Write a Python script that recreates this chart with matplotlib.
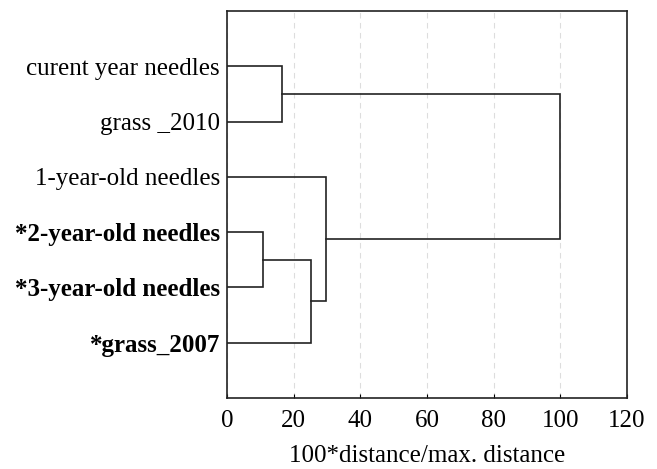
import matplotlib.pyplot as plt

plt.rcParams['font.family'] = ['Liberation Serif', 'DejaVu Serif']

# leaves from top to bottom
labels = ["curent year needles", "grass _2010", "1-year-old needles",
          "*2-year-old needles", "*3-year-old needles", "*grass_2007"]
bold = [False, False, False, True, True, True]

# linkage: (left node, right node, distance) -> new node id 6, 7, ...
merge_left = [0, 3, 7, 2, 6]
merge_right = [1, 4, 5, 8, 9]
merge_dist = [16.5, 10.9, 25.2, 29.6, 100.0]

fig = plt.figure(figsize=(6.57, 4.69), dpi=100)
ax = fig.add_axes([0.3455, 0.1514, 0.6088, 0.8251])

ypos = {i: i + 1 for i in range(len(labels))}
xpos = {i: 0.0 for i in range(len(labels))}
for k, (a, b, d) in enumerate(zip(merge_left, merge_right, merge_dist)):
    node = len(labels) + k
    ax.plot([xpos[a], d, d, xpos[b]], [ypos[a], ypos[a], ypos[b], ypos[b]],
            color="#222222", lw=1.2, solid_joinstyle="miter")
    ypos[node] = (ypos[a] + ypos[b]) / 2
    xpos[node] = d

ax.set_xlim(0, 120)
ax.set_ylim(7, 0)
ax.set_xticks(range(0, 121, 20))
ax.set_yticks(range(1, len(labels) + 1))
ax.set_yticklabels(labels)
for t, b in zip(ax.get_yticklabels(), bold):
    if b:
        t.set_fontweight("bold")
ax.tick_params(axis="x", direction="in", length=3, labelsize=18, pad=9)
ax.tick_params(axis="y", length=0, labelsize=18, pad=5)
ax.grid(axis="x", color="#dddddd", linestyle=(0, (5, 4)), lw=0.8)
ax.set_axisbelow(True)
for s in ax.spines.values():
    s.set_linewidth(1.2)
    s.set_color("#222222")
ax.set_xlabel("100*distance/max. distance", fontsize=18, labelpad=9)

plt.savefig("out.png", dpi=100)
